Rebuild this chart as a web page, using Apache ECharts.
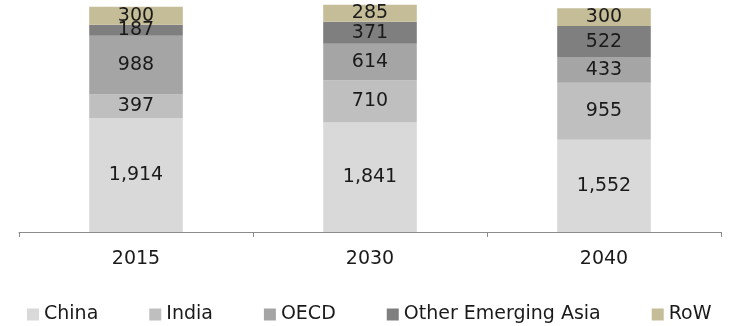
<!DOCTYPE html>
<html>
<head>
<meta charset="utf-8">
<script src="https://cdn.jsdelivr.net/npm/echarts@6/dist/echarts.min.js"></script>
<style>
  html, body { margin: 0; padding: 0; background: #ffffff; }
  #chart { width: 740px; height: 326px; }
</style>
</head>
<body>
<div id="chart"></div>
<script>
// Demand by region, stacked per year
const years = ['2015', '2030', '2040'];
const china = [1914, 1841, 1552];
const india = [397, 710, 955];
const oecd = [988, 614, 433];
const otherEmergingAsia = [187, 371, 522];
const row = [300, 285, 300];

const seriesDefs = [
  { name: 'China', data: china, color: '#d9d9d9' },
  { name: 'India', data: india, color: '#bfbfbf' },
  { name: 'OECD', data: oecd, color: '#a5a5a5' },
  { name: 'Other Emerging Asia', data: otherEmergingAsia, color: '#7f7f7f' },
  { name: 'RoW', data: row, color: '#c4bd97' }
];

const font = 'DejaVu Sans';
const chart = echarts.init(document.getElementById('chart'), null, { renderer: 'canvas' });

chart.setOption({
  animation: false,
  backgroundColor: '#ffffff',
  textStyle: { fontFamily: font },
  grid: { left: 19, right: 19, top: 0, bottom: 94, containLabel: false },
  legend: {
    top: 305,
    left: 22,
    padding: [0, 5, 0, 5],
    itemWidth: 12,
    itemHeight: 12,
    itemGap: 51,
    icon: 'rect',
    textStyle: { fontFamily: font, fontSize: 19, color: '#1a1a1a', padding: [0, 0, 0, 0] },
    data: seriesDefs.map(s => s.name)
  },
  xAxis: {
    type: 'category',
    data: years,
    axisLine: { lineStyle: { color: '#8c8c8c', width: 1 } },
    axisTick: { show: true, length: 5, lineStyle: { color: '#8c8c8c' } },
    axisLabel: { fontFamily: font, fontSize: 19, color: '#1a1a1a', margin: 18 }
  },
  yAxis: {
    type: 'value',
    min: 0,
    max: 3900,
    show: false,
    splitLine: { show: false }
  },
  series: seriesDefs.map(s => ({
    name: s.name,
    type: 'bar',
    stack: 'total',
    barWidth: '40%',
    data: s.data,
    itemStyle: { color: s.color },
    label: {
      show: true,
      position: 'inside',
      fontFamily: font,
      fontSize: 19,
      color: '#1a1a1a',
      formatter: p => p.value.toLocaleString('en-US')
    }
  }))
});
</script>
</body>
</html>
